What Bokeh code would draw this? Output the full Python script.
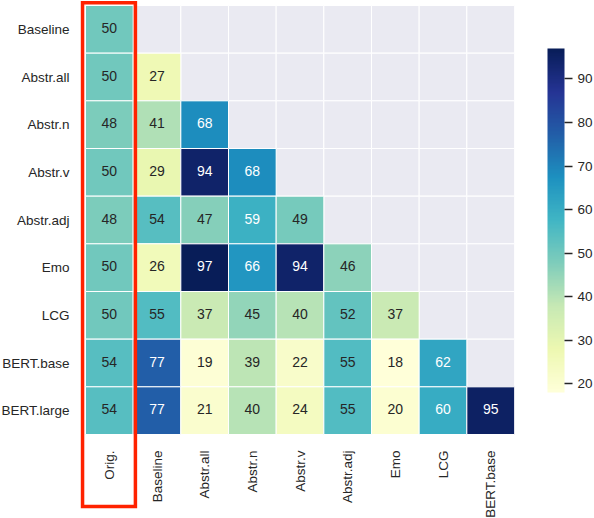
import math
import numpy as np
from bokeh.plotting import figure
from bokeh.models import (ColumnDataSource, LinearColorMapper, ColorBar, FixedTicker,
                          BoxAnnotation, Range1d)
from bokeh.palettes import YlGnBu9
from bokeh.embed import file_html
from bokeh.resources import INLINE
from bokeh.core.properties import value

# ---------------- data ----------------
row_labels = ["Baseline", "Abstr.all", "Abstr.n", "Abstr.v", "Abstr.adj",
              "Emo", "LCG", "BERT.base", "BERT.large"]
col_labels = ["Orig.", "Baseline", "Abstr.all", "Abstr.n", "Abstr.v",
              "Abstr.adj", "Emo", "LCG", "BERT.base"]

r_baseline = [50]
r_abstr_all = [50, 27]
r_abstr_n = [48, 41, 68]
r_abstr_v = [50, 29, 94, 68]
r_abstr_adj = [48, 54, 47, 59, 49]
r_emo = [50, 26, 97, 66, 94, 46]
r_lcg = [50, 55, 37, 45, 40, 52, 37]
r_bert_base = [54, 77, 19, 39, 22, 55, 18, 62]
r_bert_large = [54, 77, 21, 40, 24, 55, 20, 60, 95]

cbar_ticks = [20, 30, 40, 50, 60, 70, 80, 90]
highlight_col = "Orig."

# ---------------- styling / layout ----------------
FONT = "Liberation Sans"
TEXT = "#262626"
EMPTY = "#EAEAF2"
RED = "#ff2200"
CELL = 429 / 9.0          # px per cell
LEFT_PX, TOP_PX, BOTTOM_PX = 85, 5, 84
FRAME_W, FRAME_H = 514, 518

values_by_row = [r_baseline, r_abstr_all, r_abstr_n, r_abstr_v, r_abstr_adj,
                 r_emo, r_lcg, r_bert_base, r_bert_large]
n_rows, n_cols = len(row_labels), len(col_labels)

# continuous YlGnBu palette (light -> dark)
anchors = list(reversed(YlGnBu9))
A = np.array([[int(h[k:k + 2], 16) for k in (1, 3, 5)] for h in anchors], float)
t = np.linspace(0, 1, 256)
pos = np.linspace(0, 1, len(anchors))
pal = np.stack([np.interp(t, pos, A[:, k]) for k in range(3)], 1)
palette = ["#%02x%02x%02x" % tuple(int(round(c)) for c in rgb) for rgb in pal]

xs, ys, vs = [], [], []
ex, ey = [], []
for i in range(n_rows):
    vals = values_by_row[i]
    for j in range(n_cols):
        if j < len(vals):
            xs.append(j + 0.5); ys.append(i + 0.5); vs.append(vals[j])
        else:
            ex.append(j + 0.5); ey.append(i + 0.5)

lo, hi = min(vs), max(vs)
mapper = LinearColorMapper(palette=palette, low=lo, high=hi)


def lum(v):
    idx = min(255, int((v - lo) / (hi - lo) * 256))
    rgb = pal[idx] / 255.0
    lin = np.where(rgb <= 0.03928, rgb / 12.92, ((rgb + 0.055) / 1.055) ** 2.4)
    return 0.2126 * lin[0] + 0.7152 * lin[1] + 0.0722 * lin[2]


tcol = ["white" if lum(v) < 0.408 else TEXT for v in vs]

src = ColumnDataSource(dict(x=xs, y=ys, v=vs, label=[str(v) for v in vs], tc=tcol))
esrc = ColumnDataSource(dict(x=ex, y=ey))

x_range = Range1d(-LEFT_PX / CELL, n_cols)
y_range = Range1d(n_rows + BOTTOM_PX / CELL, -TOP_PX / CELL)   # flipped: row 0 on top

p = figure(x_range=x_range, y_range=y_range,
           frame_width=FRAME_W, frame_height=FRAME_H,
           min_border_left=0, min_border_top=0, min_border_right=80, min_border_bottom=0,
           output_backend="svg", toolbar_location=None, tools="")

p.rect(x="x", y="y", width=1, height=1, source=esrc,
       fill_color=EMPTY, line_color="white", line_width=1)
p.rect(x="x", y="y", width=1, height=1, source=src,
       fill_color={"field": "v", "transform": mapper}, line_color="white", line_width=1)
p.text(x="x", y="y", text="label", source=src, text_color="tc",
       text_align="center", text_baseline="middle", y_offset=-1.5,
       text_font=value(FONT), text_font_size=value("14px"))

p.xaxis.ticker = FixedTicker(ticks=[j + 0.5 for j in range(n_cols)])
p.xaxis.major_label_overrides = {j + 0.5: c for j, c in enumerate(col_labels)}
p.xaxis.fixed_location = n_rows
p.xaxis.major_label_orientation = math.pi / 2
p.yaxis.ticker = FixedTicker(ticks=[i + 0.5 for i in range(n_rows)])
p.yaxis.major_label_overrides = {i + 0.5: r for i, r in enumerate(row_labels)}
p.yaxis.fixed_location = 0

for ax in (p.xaxis[0], p.yaxis[0]):
    ax.axis_line_color = None
    ax.major_tick_line_color = None
    ax.minor_tick_line_color = None
    ax.major_tick_out = 0
    ax.major_tick_in = 0
    ax.major_label_standoff = 16
    ax.major_label_text_font = FONT
    ax.major_label_text_font_size = "13.5px"
    ax.major_label_text_color = TEXT
p.grid.visible = False
p.outline_line_color = None

cb = ColorBar(color_mapper=mapper, ticker=FixedTicker(ticks=cbar_ticks),
              width=17, height=344, location=(33, 126), padding=0, margin=0,
              bar_line_color=None, major_tick_out=8, major_tick_in=0,
              major_tick_line_color=TEXT, major_tick_line_width=1.5,
              minor_tick_line_color=None, label_standoff=5,
              major_label_text_font=FONT, major_label_text_font_size="13.5px",
              major_label_text_color=TEXT, background_fill_color=None,
              border_line_color=None)
p.add_layout(cb, "right")

# highlight box around the highlighted column
hj = col_labels.index(highlight_col)
box = BoxAnnotation(left=hj - 0.062, right=hj + 1.047,
                    top=-0.06, bottom=n_rows + 1.51,
                    fill_color=None, fill_alpha=0, line_color=RED, line_alpha=1.0,
                    line_width=3.5, line_join="miter", level="overlay")
p.add_layout(box)

open("out.html", "w").write(file_html(p, INLINE))
